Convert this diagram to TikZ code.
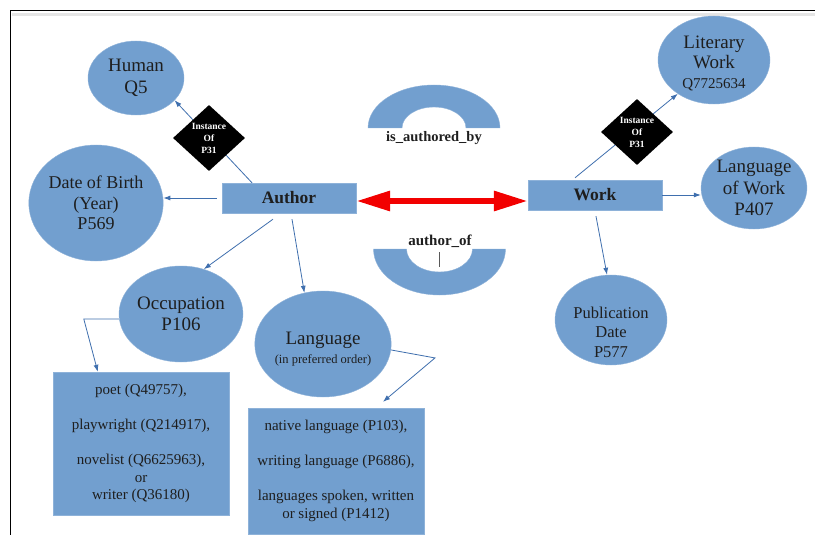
\documentclass[tikz,border=0pt]{standalone}
\usepackage{fontspec}
\setmainfont{Liberation Serif}
\usetikzlibrary{shapes.geometric,arrows.meta}
\definecolor{boxblue}{HTML}{729FCF}
\definecolor{linkblue}{HTML}{3F6FAE}
\definecolor{txt}{HTML}{1E1E1E}
\definecolor{arrred}{HTML}{F20000}
\begin{document}
\begin{tikzpicture}[x=1pt,y=1pt,
  ell/.style={ellipse,fill=boxblue,draw=boxblue!80!white,inner sep=0pt,align=center,text=txt},
  rbox/.style={rectangle,fill=boxblue,draw=boxblue!80!white,inner sep=0pt,align=center,text=txt},
  dia/.style={diamond,fill=black,inner sep=0pt,minimum width=72pt,minimum height=66pt,
    label={[text=white,font=\bfseries\fontsize{9.5}{12}\selectfont,align=center]center:Instance\\Of\\P31}},
  conn/.style={draw=linkblue,line width=0.8pt,-{Latex[length=7pt,width=5pt]}},
  bigtext/.style={font=\fontsize{19}{21.5}\selectfont},
  boxtext/.style={font=\fontsize{15}{17.5}\selectfont},
  titletext/.style={font=\bfseries\fontsize{17.5}{20}\selectfont},
  annul/.style={fill=boxblue,draw=boxblue!80!white}
]
\useasboundingbox (0,0) rectangle (815,-535);
\fill[white] (0,0) rectangle (815,-535);
% frame
\draw[line width=2.5pt,black!10] (12,-14.5) -- (815,-14.5);
\draw[line width=1.5pt,black] (10.5,-10.5) -- (815,-10.5);
\draw[line width=1.5pt,black] (10.5,-10.5) -- (10.5,-535);

% nodes
\node[ell,bigtext,minimum width=96pt,minimum height=74pt] (human) at (136,-78) {Human\\Q5};
\node[ell,font=\fontsize{18}{20.5}\selectfont,minimum width=122pt,minimum height=116pt] (dob) at (96,-203) {Date of Birth\\(Year)\\P569};
\node[rbox,titletext,minimum width=134pt,minimum height=30pt] (author) at (289,-198) {Author};
\node[ell,bigtext,minimum width=124pt,minimum height=96pt] (occ) at (181,-314) {Occupation\\P106};
\node[ell,font=\fontsize{19}{19}\selectfont,minimum width=118pt,minimum height=106pt] (lang) at (323,-344)
  {\rule{0pt}{22pt}Language\\{\fontsize{12.5}{15}\selectfont (in preferred order)}};
\node[rbox,boxtext,minimum width=176pt,minimum height=143pt] (occbox) at (141,-443.5)
  {poet (Q49757),\\[17.5pt] playwright (Q214917),\\[17.5pt] novelist (Q6625963),\\ or\\ writer (Q36180)};
\node[rbox,boxtext,minimum width=176pt,minimum height=126pt] (langbox) at (336,-471)
  {native language (P103),\\[17.5pt] writing language (P6886),\\[17.5pt] languages spoken, written\\ or signed (P1412)};

\node[rbox,titletext,minimum width=134pt,minimum height=30pt] (work) at (595,-195) {Work};
\node[ell,font=\fontsize{19}{20}\selectfont,minimum width=112pt,minimum height=88pt] (lit) at (714,-60)
  {\rule{0pt}{19pt}Literary\\Work\\{\fontsize{15}{19}\selectfont Q7725634}};
\node[ell,bigtext,minimum width=102pt,minimum height=82pt] (low) at (754,-188) {Language\\of Work\\P407};
\node[ell,minimum width=112pt,minimum height=90pt,
  label={[text=txt,font=\fontsize{16.5}{19.5}\selectfont,align=center,yshift=-12pt]center:Publication\\Date\\P577}] (pub) at (611,-320) {};

% half annuli
\path[annul] (368,-128) arc[start angle=180,end angle=0,x radius=66,y radius=43]
  -- (466,-128) arc[start angle=0,end angle=180,x radius=32,y radius=21] -- cycle;
\node[font=\bfseries\fontsize{14.5}{16}\selectfont,text=txt] (isby) at (434,-138) {is\_authored\_by};
\path[annul] (373.5,-249) arc[start angle=180,end angle=360,x radius=66,y radius=46]
  -- (472.5,-249) arc[start angle=360,end angle=180,x radius=33,y radius=23] -- cycle;
\node[font=\bfseries\fontsize{15}{16}\selectfont,text=txt] (aof) at (440,-241) {author\_of};
\draw[black!65,line width=0.8pt] (439.5,-252) -- (439.5,-267);

% connectors
\draw[conn] ([xshift=-37pt]author.north) -- (human.-30);
\draw[conn,shorten <=5pt] (author.west) -- (dob.east |- author.west);
\draw[conn] ([xshift=-16pt,yshift=-6pt]author.south) -- (occ.63);
\draw[conn] ([xshift=3pt,yshift=-6pt]author.south) -- (lang.110);
\draw[conn] ([yshift=-5pt]occ.west) -- ++(-35,0) -- ([xshift=45pt]occbox.north west);
\draw[conn] (lang.-5) -- ++(44,-8) -- ([xshift=47pt,yshift=6pt]langbox.north);
\draw[conn] ([xshift=-20pt,yshift=2pt]work.north) -- (lit.-137);
\draw[conn] (work.east) -- (low.west |- work.east);
\draw[conn] ([xshift=1pt,yshift=-6pt]work.south) -- ([xshift=-4pt]pub.north);

% red double arrow
\draw[arrred,line width=6pt,{Triangle[length=34pt,width=19pt]}-{Triangle[length=34pt,width=19pt]}]
  ([yshift=-3pt]author.east) -- ([yshift=-6pt]work.west);

% diamonds on top
\node[dia] (dl) at (209,-138) {};
\node[dia] (dr) at (637,-132) {};
\end{tikzpicture}
\end{document}
